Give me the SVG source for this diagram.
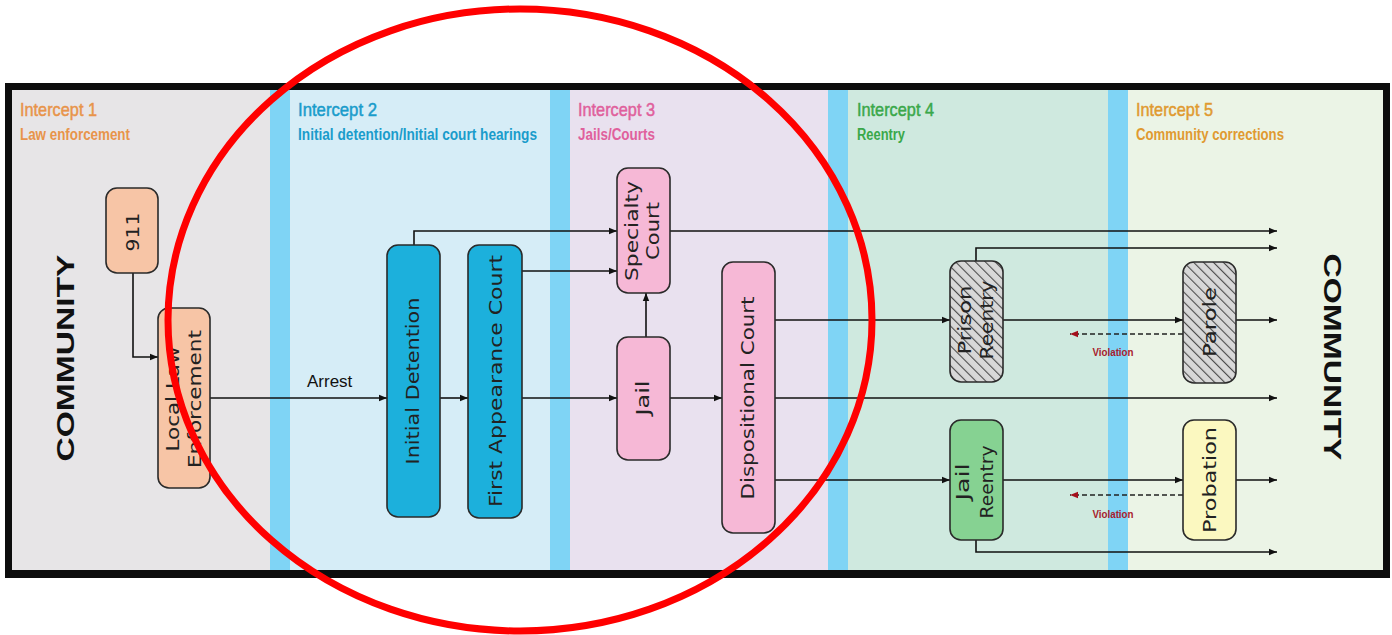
<svg xmlns="http://www.w3.org/2000/svg" width="1392" height="635" viewBox="0 0 1392 635">
<style>
.hd{font-family:"Liberation Sans Narrow","Liberation Sans",Arial,sans-serif;font-size:19px;stroke-width:0.5}
.sub{font-family:"Liberation Sans Narrow","Liberation Sans",Arial,sans-serif;font-size:16px;font-weight:bold}
.node rect{stroke:#2a2a2a;stroke-width:1.6}
.lbl{font-family:"DejaVu Sans",sans-serif;font-size:17px;fill:#222}
.conn{fill:none;stroke:#111;stroke-width:1.6}
.dash{fill:none;stroke:#222;stroke-width:1.6;stroke-dasharray:5 3}
.com{font-family:"Liberation Sans",Arial,sans-serif;font-size:23px;font-weight:bold;fill:#111}
.vio{font-family:"Liberation Sans Narrow","Liberation Sans",Arial,sans-serif;font-size:11px;font-weight:bold;fill:#a8202c}
</style>
<defs>
<marker id="ah" viewBox="0 0 10 10" refX="10" refY="5" markerWidth="8" markerHeight="8" markerUnits="userSpaceOnUse" orient="auto"><path d="M0,1 L10,5 L0,9 z" fill="#111"/></marker>
<marker id="ahr" viewBox="0 0 10 10" refX="10" refY="5" markerWidth="8" markerHeight="8" markerUnits="userSpaceOnUse" orient="auto"><path d="M0,1 L10,5 L0,9 z" fill="#a3101c"/></marker>
<pattern id="hatch" width="7" height="7" patternUnits="userSpaceOnUse" patternTransform="rotate(-45)">
<rect width="7" height="7" fill="#d8d8d8"/>
<line x1="0" y1="0" x2="0" y2="7" stroke="#4a4a4a" stroke-width="2.2"/>
</pattern>
</defs>
<rect width="1392" height="635" fill="#ffffff"/>
<!-- frame and backgrounds -->
<rect x="5" y="83" width="1385" height="495" fill="#0d0d0d"/>
<rect x="12" y="90" width="258" height="480" fill="#e7e5e7"/>
<rect x="270" y="90" width="20" height="480" fill="#7fd4f5"/>
<rect x="290" y="90" width="260" height="480" fill="#d6edf7"/>
<rect x="550" y="90" width="20" height="480" fill="#7fd4f5"/>
<rect x="570" y="90" width="258" height="480" fill="#e9e1ef"/>
<rect x="828" y="90" width="20" height="480" fill="#7fd4f5"/>
<rect x="848" y="90" width="260" height="480" fill="#cfe9df"/>
<rect x="1108" y="90" width="20" height="480" fill="#7fd4f5"/>
<rect x="1128" y="90" width="255" height="480" fill="#ebf4e6"/>
<!-- headers -->
<g id="headers">
<text class="hd" x="20" y="116" fill="#e8944a" stroke="#e8944a" textLength="77" lengthAdjust="spacingAndGlyphs">Intercept 1</text>
<text class="sub" x="20" y="140" fill="#e8944a" textLength="110" lengthAdjust="spacingAndGlyphs">Law enforcement</text>
<text class="hd" x="298" y="116" fill="#1a9ccb" stroke="#1a9ccb" textLength="79" lengthAdjust="spacingAndGlyphs">Intercept 2</text>
<text class="sub" x="298" y="140" fill="#1a9ccb" textLength="239" lengthAdjust="spacingAndGlyphs">Initial detention/Initial court hearings</text>
<text class="hd" x="578" y="116" fill="#e0609c" stroke="#e0609c" textLength="77" lengthAdjust="spacingAndGlyphs">Intercept 3</text>
<text class="sub" x="578" y="140" fill="#e0609c" textLength="77" lengthAdjust="spacingAndGlyphs">Jails/Courts</text>
<text class="hd" x="857" y="116" fill="#3aa84a" stroke="#3aa84a" textLength="77" lengthAdjust="spacingAndGlyphs">Intercept 4</text>
<text class="sub" x="857" y="140" fill="#3aa84a" textLength="48" lengthAdjust="spacingAndGlyphs">Reentry</text>
<text class="hd" x="1136" y="116" fill="#e09a30" stroke="#e09a30" textLength="77" lengthAdjust="spacingAndGlyphs">Intercept 5</text>
<text class="sub" x="1136" y="140" fill="#e09a30" textLength="148" lengthAdjust="spacingAndGlyphs">Community corrections</text>
</g>
<text class="com" transform="translate(66,358) rotate(-90)" text-anchor="middle" dominant-baseline="central" textLength="207" lengthAdjust="spacingAndGlyphs">COMMUNITY</text>
<text class="com" transform="translate(1332,357) rotate(90)" text-anchor="middle" dominant-baseline="central" textLength="207" lengthAdjust="spacingAndGlyphs">COMMUNITY</text>
<!-- connectors -->
<g id="connectors">
<path class="conn" d="M133,273 V357 H158" marker-end="url(#ah)"/>
<path class="conn" d="M210,398 H387" marker-end="url(#ah)"/>
<path class="conn" d="M440,398 H468" marker-end="url(#ah)"/>
<path class="conn" d="M522,398 H617" marker-end="url(#ah)"/>
<path class="conn" d="M670,398 H722" marker-end="url(#ah)"/>
<path class="conn" d="M646,337 V293" marker-end="url(#ah)"/>
<path class="conn" d="M414,245 V231 H617" marker-end="url(#ah)"/>
<path class="conn" d="M522,271 H617" marker-end="url(#ah)"/>
<path class="conn" d="M670,231 H1277" marker-end="url(#ah)"/>
<path class="conn" d="M976,261 V248 H1277" marker-end="url(#ah)"/>
<path class="conn" d="M775,320 H950" marker-end="url(#ah)"/>
<path class="conn" d="M775,398 H1277" marker-end="url(#ah)"/>
<path class="conn" d="M775,480 H950" marker-end="url(#ah)"/>
<path class="conn" d="M1003,320 H1183" marker-end="url(#ah)"/>
<path class="conn" d="M1236,320 H1277" marker-end="url(#ah)"/>
<path class="dash" d="M1183,334 H1070" marker-end="url(#ahr)"/>
<path class="conn" d="M1003,480 H1183" marker-end="url(#ah)"/>
<path class="conn" d="M1236,480 H1277" marker-end="url(#ah)"/>
<path class="dash" d="M1183,495 H1070" marker-end="url(#ahr)"/>
<path class="conn" d="M976,540 V552 H1277" marker-end="url(#ah)"/>
<text x="307" y="387" font-family="Liberation Sans, Arial, sans-serif" font-size="17" fill="#111">Arrest</text>
<text class="vio" x="1113" y="356" text-anchor="middle" textLength="41" lengthAdjust="spacingAndGlyphs">Violation</text>
<text class="vio" x="1113" y="518" text-anchor="middle" textLength="41" lengthAdjust="spacingAndGlyphs">Violation</text>
</g>
<!-- nodes -->
<g id="n911" class="node">
<rect x="106" y="188" width="52" height="85" rx="11" fill="#f7c5a6"/>
<text class="lbl" transform="translate(133,232) rotate(-90)" text-anchor="middle" dominant-baseline="central" textLength="39" lengthAdjust="spacingAndGlyphs">911</text>
</g>
<g id="nLLE" class="node">
<rect x="158" y="308" width="52" height="180" rx="11" fill="#f7c5a6"/>
<text class="lbl" transform="translate(184,399) rotate(-90)" text-anchor="middle" dominant-baseline="central"><tspan x="0" y="-11" textLength="105" lengthAdjust="spacingAndGlyphs">Local Law</tspan><tspan x="0" y="11" textLength="138" lengthAdjust="spacingAndGlyphs">Enforcement</tspan></text>
</g>
<g id="nID" class="node">
<rect x="387" y="245" width="53" height="272" rx="11" fill="#1cb0dc"/>
<text class="lbl" transform="translate(413,381) rotate(-90)" text-anchor="middle" dominant-baseline="central" textLength="167" lengthAdjust="spacingAndGlyphs">Initial Detention</text>
</g>
<g id="nFAC" class="node">
<rect x="468" y="245" width="54" height="273" rx="11" fill="#1cb0dc"/>
<text class="lbl" transform="translate(496,381) rotate(-90)" text-anchor="middle" dominant-baseline="central" textLength="252" lengthAdjust="spacingAndGlyphs">First Appearance Court</text>
</g>
<g id="nSC" class="node">
<rect x="617" y="168" width="53" height="125" rx="11" fill="#f6b8d6"/>
<text class="lbl" transform="translate(643,231) rotate(-90)" text-anchor="middle" dominant-baseline="central"><tspan x="0" y="-11" textLength="100" lengthAdjust="spacingAndGlyphs">Specialty</tspan><tspan x="0" y="10" textLength="58" lengthAdjust="spacingAndGlyphs">Court</tspan></text>
</g>
<g id="nJail" class="node">
<rect x="617" y="337" width="53" height="123" rx="11" fill="#f6b8d6"/>
<text class="lbl" transform="translate(643,398) rotate(-90)" text-anchor="middle" dominant-baseline="central" textLength="35" lengthAdjust="spacingAndGlyphs">Jail</text>
</g>
<g id="nDC" class="node">
<rect x="722" y="262" width="53" height="271" rx="11" fill="#f6b8d6"/>
<text class="lbl" transform="translate(748,398) rotate(-90)" text-anchor="middle" dominant-baseline="central" textLength="203" lengthAdjust="spacingAndGlyphs">Dispositional Court</text>
</g>
<g id="nPR" class="node">
<rect x="950" y="261" width="53" height="121" rx="11" fill="url(#hatch)"/>
<text class="lbl" transform="translate(976,320) rotate(-90)" text-anchor="middle" dominant-baseline="central"><tspan x="0" y="-11" textLength="69" lengthAdjust="spacingAndGlyphs">Prison</tspan><tspan x="0" y="11" textLength="79" lengthAdjust="spacingAndGlyphs">Reentry</tspan></text>
</g>
<g id="nParole" class="node">
<rect x="1183" y="262" width="53" height="121" rx="11" fill="url(#hatch)"/>
<text class="lbl" transform="translate(1210,322) rotate(-90)" text-anchor="middle" dominant-baseline="central" textLength="70" lengthAdjust="spacingAndGlyphs">Parole</text>
</g>
<g id="nJR" class="node">
<rect x="950" y="420" width="53" height="120" rx="11" fill="#86d292"/>
<text class="lbl" transform="translate(976,482) rotate(-90)" text-anchor="middle" dominant-baseline="central"><tspan x="0" y="-13" textLength="37" lengthAdjust="spacingAndGlyphs">Jail</tspan><tspan x="0" y="11" textLength="73" lengthAdjust="spacingAndGlyphs">Reentry</tspan></text>
</g>
<g id="nProb" class="node">
<rect x="1183" y="420" width="53" height="120" rx="11" fill="#fbf8c0"/>
<text class="lbl" transform="translate(1210,480) rotate(-90)" text-anchor="middle" dominant-baseline="central" textLength="106" lengthAdjust="spacingAndGlyphs">Probation</text>
</g>
<!-- red ellipse -->
<ellipse cx="520" cy="320" rx="352" ry="311" fill="none" stroke="#ff0000" stroke-width="7"/>
</svg>
